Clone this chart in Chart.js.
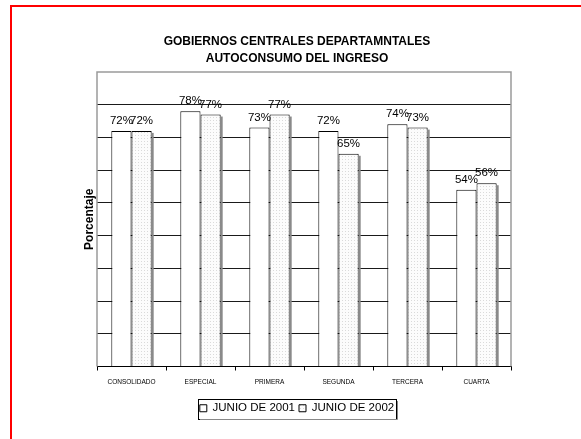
<!DOCTYPE html>
<html><head><meta charset="utf-8">
<script src="https://cdn.jsdelivr.net/npm/chart.js@4.4.1/dist/chart.umd.min.js"></script>
<style>html,body{margin:0;padding:0;background:#fff;overflow:hidden}canvas{display:block}</style>
</head><body><canvas id="c" width="581" height="439"></canvas>
<script>
const categories = ['CONSOLIDADO','ESPECIAL','PRIMERA','SEGUNDA','TERCERA','CUARTA'];
const junio2001 = [72,78,73,72,74,54];
const junio2002 = [72,77,77,65,73,56];
const seriesNames = ['JUNIO DE 2001','JUNIO DE 2002'];
const titleLines = ['GOBIERNOS CENTRALES DEPARTAMNTALES','AUTOCONSUMO DEL INGRESO'];
const yTitle = 'Porcentaje';
const yMin = 0, yMax = 90, yStep = 10;

const FONT = '"Liberation Sans", Arial, sans-serif';
const canvas = document.getElementById('c');

function makePattern(){
  const p = document.createElement('canvas'); p.width = 3; p.height = 3;
  const g = p.getContext('2d');
  g.fillStyle = '#fcfcfc'; g.fillRect(0,0,3,3);
  g.fillStyle = '#dadada'; g.fillRect(0,0,1,1);
  return canvas.getContext('2d').createPattern(p,'repeat');
}
const dotted = makePattern();

const bgPlugin = {
  id:'bg',
  beforeDraw(chart){
    const ctx = chart.ctx; ctx.save();
    ctx.fillStyle = '#fff'; ctx.fillRect(0,0,chart.width,chart.height);
    ctx.fillStyle = '#ff0000';
    ctx.fillRect(10,5,2,chart.height);
    ctx.fillRect(10,5,chart.width,2);
    ctx.restore();
  }
};
const framePlugin = {
  id:'frame',
  beforeDatasetsDraw(chart){
    const a = chart.chartArea, ctx = chart.ctx; ctx.save();
    ctx.strokeStyle = '#9a9a9a'; ctx.lineWidth = 1.5;
    ctx.beginPath();
    ctx.moveTo(a.left, a.bottom); ctx.lineTo(a.left, a.top); ctx.lineTo(a.right, a.top); ctx.lineTo(a.right, a.bottom);
    ctx.stroke();
    ctx.restore();
  }
};
const labelPlugin = {
  id:'labels',
  afterDatasetsDraw(chart){
    const ctx = chart.ctx; ctx.save();
    chart.getDatasetMeta(1).data.forEach(bar=>{
      ctx.fillStyle = '#8a8a8a';
      ctx.fillRect(bar.x + bar.width/2, bar.y + 2, 2, bar.base - bar.y - 2);
    });
    ctx.font = '11.5px ' + FONT; ctx.fillStyle = '#000';
    ctx.textAlign = 'center'; ctx.textBaseline = 'alphabetic';
    chart.data.datasets.forEach((ds,i)=>{
      chart.getDatasetMeta(i).data.forEach((bar,j)=>{
        ctx.fillText(ds.data[j] + '%', bar.x, bar.y - 7);
      });
    });
    ctx.restore();
  },
  afterDraw(chart){
    const hb = chart.legend.legendHitBoxes; if(!hb || !hb.length) return;
    const ctx = chart.ctx; ctx.save();
    const l = Math.min(...hb.map(h=>h.left)) - 2;
    const r = Math.max(...hb.map(h=>h.left + h.width)) + 2;
    const t = hb[0].top - 4, b = hb[0].top + hb[0].height + 4;
    ctx.strokeStyle = '#000'; ctx.lineWidth = 1;
    ctx.strokeRect(Math.round(l)+0.5, Math.round(t)+0.5, Math.round(r-l), Math.round(b-t));
    ctx.strokeStyle = '#888';
    ctx.beginPath();
    ctx.moveTo(Math.round(l)+2, Math.round(b)+1.5); ctx.lineTo(Math.round(r)+1.5, Math.round(b)+1.5); ctx.lineTo(Math.round(r)+1.5, Math.round(t)+2);
    ctx.stroke();
    ctx.restore();
  }
};

new Chart(canvas, {
  type:'bar',
  data:{
    labels: categories,
    datasets:[
      {label: seriesNames[0], data: junio2001, backgroundColor:'#ffffff', borderColor:'#000', borderWidth:1, categoryPercentage:0.585, barPercentage:1},
      {label: seriesNames[1], data: junio2002, backgroundColor: dotted, borderColor:'#000', borderWidth:1, categoryPercentage:0.585, barPercentage:1}
    ]
  },
  plugins:[bgPlugin, framePlugin, labelPlugin],
  options:{
    responsive:false, animation:false, devicePixelRatio:1,
    layout:{padding:{left:83, right:70, top:22, bottom:15}},
    plugins:{
      title:{display:true, text:titleLines, color:'#000',
        font:{family:FONT, size:12, weight:'bold', lineHeight:1.47}, padding:{top:10.5, bottom:4.2}},
      legend:{position:'bottom', labels:{font:{family:FONT, size:11.5}, color:'#000', boxWidth:7, boxHeight:7, padding:4}},
      tooltip:{enabled:false}
    },
    scales:{
      x:{
        grid:{display:true, drawOnChartArea:false, offset:true, color:'#000', tickLength:4, lineWidth:1},
        border:{display:true, color:'#000', width:1},
        ticks:{font:{family:FONT, size:6.5}, color:'#000', padding:8, maxRotation:0, autoSkip:false},
        afterFit(s){ s.height = 32; }
      },
      y:{
        min:yMin, max:yMax,
        ticks:{display:false, stepSize:yStep},
        grid:{drawTicks:false, lineWidth:1, color:(c)=> (c.tick && (c.tick.value===yMin || c.tick.value===yMax)) ? 'rgba(0,0,0,0)' : '#1a1a1a'},
        border:{display:false},
        title:{display:true, text:yTitle, color:'#000', font:{family:FONT, size:12, weight:'bold', lineHeight:1}, padding:{top:1, bottom:0}},
        afterFit(s){ s.width = 14; }
      }
    }
  }
});
</script>
</body></html>
